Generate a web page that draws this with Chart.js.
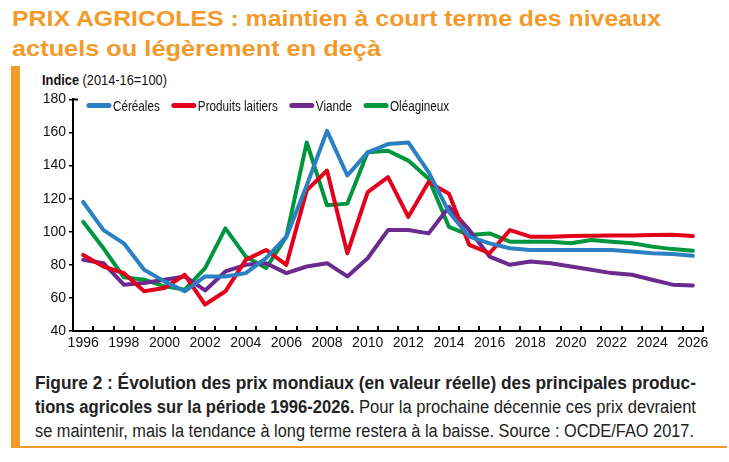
<!DOCTYPE html>
<html>
<head>
<meta charset="utf-8">
<script src="https://cdn.jsdelivr.net/npm/chart.js@4"></script>
<style>
  html, body { margin: 0; padding: 0; background: #fff; }
  body { width: 729px; height: 462px; position: relative; overflow: hidden;
         font-family: "Liberation Sans", Arial, sans-serif; }
  .fit { white-space: nowrap; display: block; transform-origin: 0 0; width: max-content; }
  #title { position: absolute; left: 12px; top: 4px; color: #f39a2b; font-weight: bold;
           font-size: 22px; line-height: 30px; }
  #bar { position: absolute; left: 11px; top: 66px; width: 9px; height: 382px; background: #f39a2b; }
  #rule { position: absolute; left: 11px; top: 446px; width: 716px; height: 2px; background: #f39a2b; }
  #unit { position: absolute; left: 42px; top: 71px; font-size: 15px; line-height: 18px; color: #111; }
  #chart-box { position: absolute; left: 0; top: 88px; width: 729px; height: 270px; }
  #caption { position: absolute; left: 35px; top: 371px; font-size: 18px; line-height: 24px; color: #222; }
</style>
</head>
<body>
<div id="title">
  <span class="fit" data-w="649">PRIX AGRICOLES : maintien à court terme des niveaux</span>
  <span class="fit" data-w="369">actuels ou légèrement en deçà</span>
</div>
<div id="bar"></div>
<div id="rule"></div>
<div id="unit"><span class="fit" data-w="125"><b>Indice</b> (2014-16=100)</span></div>
<div id="chart-box"><canvas id="prixChart"></canvas></div>
<div id="caption">
  <span class="fit" data-w="661"><b>Figure 2 : Évolution des prix mondiaux (en valeur réelle) des principales produc-</b></span>
  <span class="fit" data-w="661"><b>tions agricoles sur la période 1996-2026.</b> Pour la prochaine décennie ces prix devraient</span>
  <span class="fit" data-w="659">se maintenir, mais la tendance à long terme restera à la baisse. Source : OCDE/FAO 2017.</span>
</div>
<script>
// Data
const YEARS = [];
for (let y = 1996; y <= 2026; y++) YEARS.push(String(y));

const CEREALES = [118, 101, 93, 77, 70, 64, 73, 73, 75, 84, 97, 128, 161, 134, 148, 153, 154, 136, 112, 97,
                  93, 90, 89, 89, 89, 89, 89, 88, 87, 86.5, 85.5];
const PRODUITS_LAITIERS = [86, 79, 75, 64, 66, 74, 56, 64, 83, 89, 80, 125, 137, 87, 124, 133, 109, 130, 123, 92,
                           87, 101, 97, 97, 97.4, 97.6, 97.8, 97.8, 98, 98.2, 97.4];
const VIANDE = [83, 81, 68, 69, 71, 73, 64.5, 76, 80, 81, 75, 79, 81, 73, 84, 101, 101, 99, 115, 101,
                85, 80, 82, 81, 79, 77, 75, 74, 71, 68, 67.5];
const OLEAGINEUX = [106, 90, 72.5, 71, 67, 65, 78, 102, 85, 78, 97, 154, 116, 117, 148, 149, 143, 132, 103, 98,
                    99, 94, 94, 94, 93, 95, 94, 93, 91, 89.5, 88.5];

const Y_MIN = 40, Y_MAX = 180, Y_STEP = 20;

const COLORS = {
    cereales: '#2a80c2',
    laitiers: '#e3001b',
    viande: '#6a2a8e',
    oleagineux: '#00963f'
};

const FONT_FAMILY = '"Liberation Sans", Arial, sans-serif';

// squeeze the HTML text lines to the condensed widths of the original
document.querySelectorAll('.fit').forEach(el => {
    const w = el.getBoundingClientRect().width;
    el.style.transform = 'scaleX(' + (Number(el.dataset.w) / w) + ')';
});

// inside tick marks on the x axis + small hook at top of y axis
const axisMarks = {
    id: 'axisMarks',
    afterDraw(chart) {
        const ctx = chart.ctx;
        const x = chart.scales.x;
        const y = chart.scales.y;
        const step = x.width / YEARS.length;
        ctx.save();
        ctx.strokeStyle = '#000';
        ctx.lineWidth = 2;
        ctx.beginPath();
        for (let i = 0; i <= YEARS.length; i++) {
            const px = Math.round(x.getPixelForValue(0) - step / 2 + i * step);
            ctx.moveTo(px, y.bottom);
            ctx.lineTo(px, y.bottom - 5);
        }
        ctx.moveTo(y.right - 1, y.top);
        ctx.lineTo(y.right + 5, y.top);
        ctx.stroke();
        ctx.restore();
    }
};

// legend drawn inside the plot, with condensed text
const insideLegend = {
    id: 'insideLegend',
    afterDraw(chart) {
        const ctx = chart.ctx;
        const area = chart.chartArea;
        const squeeze = 0.78;
        let cx = area.left + 14;
        const cy = area.top + 6;
        ctx.save();
        ctx.font = '15px ' + FONT_FAMILY;
        ctx.textBaseline = 'middle';
        ctx.fillStyle = '#111';
        chart.data.datasets.forEach(ds => {
            ctx.strokeStyle = ds.borderColor;
            ctx.lineWidth = 5;
            ctx.lineCap = 'round';
            ctx.beginPath();
            ctx.moveTo(cx + 2, cy);
            ctx.lineTo(cx + 22, cy);
            ctx.stroke();
            cx += 26;
            const tw = ctx.measureText(ds.label).width * squeeze;
            ctx.save();
            ctx.translate(cx, cy);
            ctx.scale(squeeze, 1);
            ctx.fillText(ds.label, 0, 1);
            ctx.restore();
            cx += tw + 12;
        });
        ctx.restore();
    }
};

function makeDataset(label, data, color) {
    return {
        label: label,
        data: data,
        borderColor: color,
        backgroundColor: color,
        borderWidth: 4,
        pointRadius: 0,
        tension: 0,
        borderJoinStyle: 'round',
        borderCapStyle: 'round'
    };
}

const ctx = document.getElementById('prixChart').getContext('2d');
const chart = new Chart(ctx, {
    type: 'line',
    data: {
        labels: YEARS,
        datasets: [
            makeDataset('Céréales', CEREALES, COLORS.cereales),
            makeDataset('Produits laitiers', PRODUITS_LAITIERS, COLORS.laitiers),
            makeDataset('Viande', VIANDE, COLORS.viande),
            makeDataset('Oléagineux', OLEAGINEUX, COLORS.oleagineux)
        ]
    },
    options: {
        responsive: true,
        maintainAspectRatio: false,
        animation: false,
        layout: { padding: { top: 9, right: 26, bottom: 0, left: 0 } },
        plugins: {
            tooltip: { enabled: false },
            legend: { display: false }
        },
        scales: {
            x: {
                type: 'category',
                offset: true,
                grid: { offset: true, drawOnChartArea: false, drawTicks: false },
                border: { display: true, color: '#000', width: 2 },
                ticks: {
                    color: '#111',
                    font: { family: FONT_FAMILY, size: 14 },
                    padding: 4,
                    autoSkip: false,
                    maxRotation: 0,
                    callback: function (value, index) {
                        const yr = Number(YEARS[index]);
                        return yr % 2 === 0 ? YEARS[index] : '';
                    }
                },
                afterFit: function (scale) { scale.height = 27; }
            },
            y: {
                min: Y_MIN,
                max: Y_MAX,
                grid: { drawOnChartArea: false, tickLength: 4, color: '#000', lineWidth: 1.5 },
                border: { display: true, color: '#000', width: 2 },
                ticks: {
                    stepSize: Y_STEP,
                    color: '#111',
                    font: { family: FONT_FAMILY, size: 14 },
                    padding: 3
                },
                afterFit: function (scale) { scale.width = 73; }
            }
        }
    },
    plugins: [axisMarks, insideLegend]
});
</script>
</body>
</html>
